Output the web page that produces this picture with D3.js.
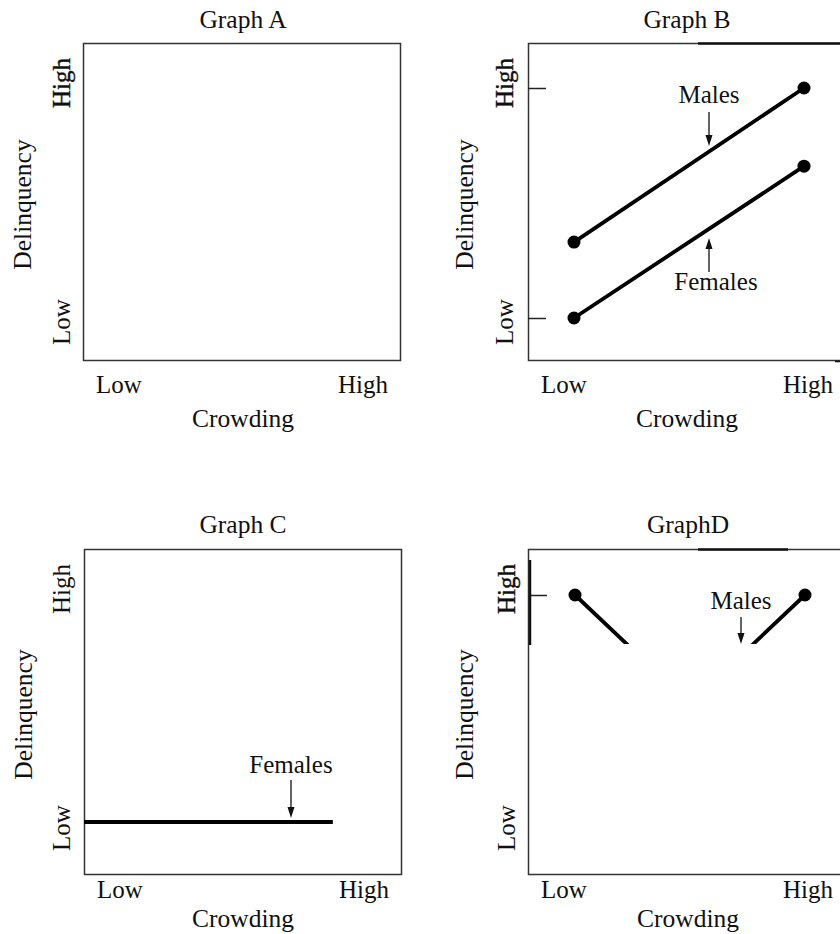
<!DOCTYPE html>
<html>
<head>
<meta charset="utf-8">
<script src="https://cdn.jsdelivr.net/npm/d3@7"></script>
<style>
  body { margin: 0; background: #fff; }
  text { font-family: "Liberation Serif", "Times New Roman", serif; fill: #111; }
</style>
</head>
<body>
<div id="chart"></div>
<script>
// tick labels
const crowding = ['Low', 'High'];
const delinquency = ['High', 'Low'];
const titles = ['Graph A', 'Graph B', 'Graph C', 'GraphD'];

// values on a 0 (low) .. 1 (high) scale
const bCrowd = [0, 1];
const bMales = [0.33, 1];
const bFemales = [0, 0.66];
const cCrowd = [0, 0.785];
const cFemales = [0, 0];
const dCrowd = [0, 0.5, 1];
const dMales = [1, 0.52, 1];

const W = 840, H = 934;

const svg = d3.select('#chart')
  .append('svg')
    .attr('width', W)
    .attr('height', H);

// layout of the four panels
const panels = [
  { title: titles[0], l: 83, t: 43, r: 400, b: 360, cx: 243, titleY: 28, xlabY: 393, crowdY: 427,
    ylabX: 70, delX: 31, frame: 'box', heavyHigh: true },
  { title: titles[1], l: 528, t: 43, r: 840, b: 360, cx: 687, titleY: 28, xlabY: 393, crowdY: 427,
    ylabX: 513, delX: 473, frame: 'open', heavyHigh: true },
  { title: titles[2], l: 84, t: 549, r: 401, b: 874, cx: 243, titleY: 533, xlabY: 898, crowdY: 927,
    ylabX: 70, delX: 32, frame: 'box', heavyHigh: false },
  { title: titles[3], l: 528, t: 549, r: 840, b: 874, cx: 688, titleY: 533, xlabY: 898, crowdY: 927,
    ylabX: 515, delX: 473, frame: 'open', heavyHigh: true }
];

panels.forEach(p => {
  const g = svg.append('g');

  // frame
  if (p.frame === 'box') {
    g.append('rect')
      .attr('x', p.l + 0.5).attr('y', p.t + 0.5)
      .attr('width', p.r - p.l).attr('height', p.b - p.t)
      .attr('fill', 'none').attr('stroke', '#333').attr('stroke-width', 1.5);
  } else {
    g.append('path')
      .attr('d', `M${p.r},${p.t + 0.5}H${p.l + 0.5}V${p.b + 0.5}H${p.r}`)
      .attr('fill', 'none').attr('stroke', '#333').attr('stroke-width', 1.5);
  }

  // title
  g.append('text')
    .attr('x', p.cx).attr('y', p.titleY)
    .attr('text-anchor', 'middle')
    .style('font-size', '25.5px')
    .text(p.title);

  // x tick labels
  const xl = d3.scalePoint().domain(crowding).range([p.l + 36, p.l + 280]);
  g.selectAll('.xlab')
    .data(crowding)
    .enter().append('text')
      .attr('class', 'xlab')
      .attr('x', d => xl(d)).attr('y', p.xlabY)
      .attr('text-anchor', 'middle')
      .style('font-size', '25px')
      .text(d => d);

  g.append('text')
    .attr('x', p.cx).attr('y', p.crowdY)
    .attr('text-anchor', 'middle')
    .style('font-size', '25.5px')
    .text('Crowding');

  // y tick labels (rotated)
  const yl = d3.scalePoint().domain(delinquency).range([p.t + 40, p.t + 279]);
  g.selectAll('.ylab')
    .data(delinquency)
    .enter().append('text')
      .attr('class', 'ylab')
      .attr('transform', d => `translate(${p.ylabX},${yl(d)}) rotate(-90)`)
      .attr('text-anchor', 'middle')
      .style('font-size', '25px')
      .style('stroke', d => d === 'High' && p.heavyHigh ? '#111' : 'none')
      .style('stroke-width', 0.4)
      .text(d => d);

  g.append('text')
    .attr('transform', `translate(${p.delX},${(p.t + p.b) / 2 + 3}) rotate(-90)`)
    .attr('text-anchor', 'middle')
    .style('font-size', '25.5px')
    .text('Delinquency');
});

function arrow(x, y1, y2) {
  const dir = y2 > y1 ? 1 : -1;
  svg.append('line')
    .attr('x1', x).attr('x2', x)
    .attr('y1', y1).attr('y2', y2 - dir * 8)
    .attr('stroke', '#111').attr('stroke-width', 1.3);
  svg.append('path')
    .attr('d', `M${x - 3.5},${y2 - dir * 11}L${x + 3.5},${y2 - dir * 11}L${x},${y2}Z`)
    .attr('fill', '#111');
}

function label(x, y, s) {
  svg.append('text')
    .attr('x', x).attr('y', y)
    .attr('text-anchor', 'middle')
    .style('font-size', '25px')
    .text(s);
}

/* Graph B */
const xB = d3.scaleLinear().domain([0, 1]).range([574, 804]);
const yB = d3.scaleLinear().domain([0, 1]).range([318, 88]);

svg.append('g')
  .attr('transform', 'translate(528,0)')
  .call(d3.axisRight(yB).tickValues([0, 1]).tickSize(18).tickFormat(''))
  .call(a => a.select('.domain').remove())
  .call(a => a.selectAll('line').attr('stroke', '#222').attr('stroke-width', 1.5));

const lineB = d3.line().x(d => xB(d[0])).y(d => yB(d[1]));
[bMales, bFemales].forEach(s => {
  const pts = d3.zip(bCrowd, s);
  svg.append('path')
    .attr('d', lineB(pts))
    .attr('fill', 'none').attr('stroke', '#000').attr('stroke-width', 3.8);
  svg.selectAll(null)
    .data(pts)
    .enter().append('circle')
      .attr('cx', d => xB(d[0])).attr('cy', d => yB(d[1]))
      .attr('r', 6.5).attr('fill', '#000');
});
label(709, 103, 'Males');
arrow(709, 112, 146);
label(716, 290, 'Females');
arrow(709, 272, 238);

// heavier bits of the printed frame
svg.append('line').attr('x1', 698).attr('x2', 840).attr('y1', 43.5).attr('y2', 43.5)
  .attr('stroke', '#111').attr('stroke-width', 2.5);
svg.append('line').attr('x1', 835).attr('x2', 840).attr('y1', 361.5).attr('y2', 361.5)
  .attr('stroke', '#111').attr('stroke-width', 1.5);

/* Graph C */
const xC = d3.scaleLinear().domain([0, 1]).range([84, 401]);
const yC = d3.scaleLinear().domain([0, 1]).range([822, 595]);
svg.append('path')
  .attr('d', d3.line().x(d => xC(d[0])).y(d => yC(d[1]))(d3.zip(cCrowd, cFemales)))
  .attr('fill', 'none').attr('stroke', '#000').attr('stroke-width', 4.2);
label(291, 773, 'Females');
arrow(291, 780, 818);

/* Graph D */
const xD = d3.scaleLinear().domain([0, 1]).range([575, 805]);
const yD = d3.scaleLinear().domain([0, 1]).range([822, 595]);

svg.append('g')
  .attr('transform', 'translate(530,0)')
  .call(d3.axisRight(yD).tickValues([1]).tickSize(17).tickFormat(''))
  .call(a => a.select('.domain').remove())
  .call(a => a.selectAll('line').attr('stroke', '#222').attr('stroke-width', 1.5));

svg.append('line').attr('x1', 530).attr('x2', 530).attr('y1', 560).attr('y2', 645)
  .attr('stroke', '#111').attr('stroke-width', 2.5);
svg.append('line').attr('x1', 698).attr('x2', 788).attr('y1', 549.5).attr('y2', 549.5)
  .attr('stroke', '#111').attr('stroke-width', 2.5);

// the lower part of this panel is blank in the source, so clip it
svg.append('clipPath').attr('id', 'clipD')
  .append('rect').attr('x', 528).attr('y', 549).attr('width', 312).attr('height', 95);

const ptsD = d3.zip(dCrowd, dMales);
svg.append('path')
  .attr('clip-path', 'url(#clipD)')
  .attr('d', d3.line().x(d => xD(d[0])).y(d => yD(d[1]))(ptsD))
  .attr('fill', 'none').attr('stroke', '#000').attr('stroke-width', 3.8);
svg.selectAll(null)
  .data(ptsD.filter(d => d[1] === 1))
  .enter().append('circle')
    .attr('cx', d => xD(d[0])).attr('cy', d => yD(d[1]))
    .attr('r', 6.5).attr('fill', '#000');
label(741, 609, 'Males');
arrow(741, 617, 644);
</script>
</body>
</html>
